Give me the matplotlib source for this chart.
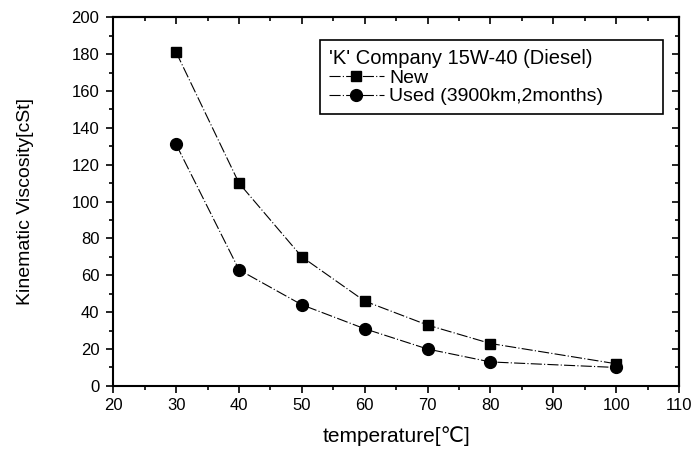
import matplotlib
matplotlib.use("Agg")
import matplotlib.pyplot as plt
from matplotlib.ticker import MultipleLocator

plt.rcParams['font.family'] = ['Liberation Sans', 'DejaVu Sans']

temperature = [30, 40, 50, 60, 70, 80, 100]
visc_new = [181, 110, 70, 46, 33, 23, 12]
visc_used = [131, 63, 44, 31, 20, 13, 10]

fig = plt.figure(figsize=(6.95, 4.54), dpi=100)
ax = fig.add_axes([0.163, 0.150, 0.814, 0.812])

ls = (0, (10, 2, 1, 2))
ax.plot(temperature, visc_new, color='black', lw=0.8, linestyle=ls,
        marker='s', markersize=7, label='New')
ax.plot(temperature, visc_used, color='black', lw=0.8, linestyle=ls,
        marker='o', markersize=8.5, label='Used (3900km,2months)')

ax.set_xlim(20, 110)
ax.set_ylim(0, 200)
ax.xaxis.set_major_locator(MultipleLocator(10))
ax.xaxis.set_minor_locator(MultipleLocator(5))
ax.yaxis.set_major_locator(MultipleLocator(20))
ax.yaxis.set_minor_locator(MultipleLocator(10))
ax.tick_params(which='both', direction='out', width=1.2)
ax.tick_params(which='major', length=5, labelsize=12)
ax.tick_params(which='minor', length=3)
ax.tick_params(axis='x', pad=4)
ax.tick_params(axis='y', pad=5)

# top and right: ticks pointing inward, no labels
top = ax.secondary_xaxis('top')
top.xaxis.set_major_locator(MultipleLocator(10))
top.xaxis.set_minor_locator(MultipleLocator(5))
top.tick_params(which='both', direction='in', width=1.2, labeltop=False)
top.tick_params(which='major', length=5)
top.tick_params(which='minor', length=3)
right = ax.secondary_yaxis('right')
right.yaxis.set_major_locator(MultipleLocator(20))
right.yaxis.set_minor_locator(MultipleLocator(10))
right.tick_params(which='both', direction='in', width=1.2, labelright=False)
right.tick_params(which='major', length=5)
right.tick_params(which='minor', length=3)

for a in (ax, top, right):
    for s in a.spines.values():
        s.set_linewidth(1.5)

ax.set_xlabel('temperature[\u2103]', fontsize=15, labelpad=9)
ax.set_ylabel('Kinematic Viscosity[cSt]', fontsize=14, labelpad=27)

leg = ax.legend(title="'K' Company 15W-40 (Diesel)", loc='upper left',
                bbox_to_anchor=(0.366, 0, 0.606, 0.937), mode='expand',
                borderaxespad=0, fontsize=14, title_fontsize=14.5,
                fancybox=False, edgecolor='black', framealpha=1,
                handlelength=2.8, borderpad=0.45, labelspacing=0.05,
                handletextpad=0.3)
leg.get_frame().set_linewidth(1.2)
leg._legend_box.align = 'left'

fig.savefig('out.png', dpi=100)
